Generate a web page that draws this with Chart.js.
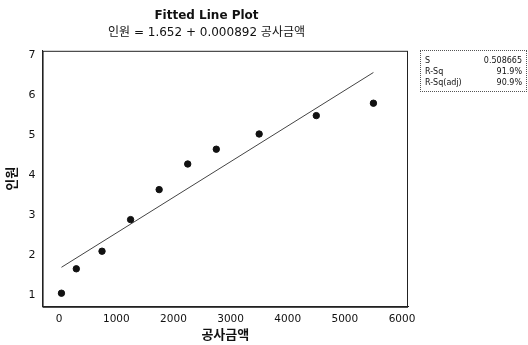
<!DOCTYPE html>
<html>
<head>
<meta charset="utf-8">
<script src="https://cdn.jsdelivr.net/npm/chart.js@4/dist/chart.umd.min.js"></script>
<style>
  body { margin: 0; background: #fff; }
  #wrap { position: relative; width: 528px; height: 345px; }
  #stats {
    position: absolute; left: 420px; top: 50px; width: 107px;
    border: 1px dotted #555; font: 8px 'DejaVu Sans', sans-serif; color: #111;
    padding: 4px 4px 3px 4px; box-sizing: border-box;
  }
  #stats div { display: flex; justify-content: space-between; line-height: 11px; }
</style>
</head>
<body>
<div id="wrap">
  <canvas id="fitChart" width="528" height="345"></canvas>
  <div id="stats">
    <div><span>S</span><span>0.508665</span></div>
    <div><span>R-Sq</span><span>91.9%</span></div>
    <div><span>R-Sq(adj)</span><span>90.9%</span></div>
  </div>
</div>
<script>
// -------------------------
// DATA
// -------------------------
const amount = [40, 300, 750, 1250, 1750, 2250, 2750, 3500, 4500, 5500];   // 공사금액
const staff  = [1.04, 1.65, 2.09, 2.88, 3.63, 4.27, 4.64, 5.02, 5.48, 5.79]; // 인원

const intercept = 1.652;
const slope = 0.000892;

const xTicks = [0, 1000, 2000, 3000, 4000, 5000, 6000];
const yTicks = [1, 2, 3, 4, 5, 6, 7];

const FONT = "'DejaVu Sans', 'Noto Sans CJK KR', sans-serif";

// fitted line endpoints from the equation
const xFirst = Math.min(...amount);
const xLast = Math.max(...amount);
const fitLine = [
    { x: xFirst, y: intercept + slope * xFirst },
    { x: xLast, y: intercept + slope * xLast }
];

// frame around the plot area
const frame = {
    id: "frame",
    afterDraw(chart) {
        const a = chart.chartArea;
        const ctx = chart.ctx;
        ctx.save();
        ctx.strokeStyle = "#222";
        ctx.lineWidth = 1;
        ctx.strokeRect(a.left + 0.5, a.top + 0.5, a.right - a.left - 1, a.bottom - a.top);
        ctx.restore();
    }
};

const ctx = document.getElementById("fitChart").getContext("2d");

new Chart(ctx, {
    type: "scatter",
    data: {
        datasets: [
            {
                data: amount.map((v, i) => ({ x: v, y: staff[i] })),
                backgroundColor: "#111",
                borderColor: "#111",
                pointRadius: 3.2,
                pointHoverRadius: 3.2
            },
            {
                type: "line",
                data: fitLine,
                borderColor: "#444",
                borderWidth: 1,
                pointRadius: 0,
                fill: false
            }
        ]
    },
    options: {
        responsive: false,
        animation: false,
        layout: { padding: { left: 5, right: 120, top: 0, bottom: 2 } },
        plugins: {
            legend: { display: false },
            tooltip: { enabled: false },
            title: {
                display: true,
                text: "Fitted Line Plot",
                color: "#111",
                font: { family: FONT, size: 12, weight: "bold" },
                padding: { top: 9, bottom: 2 }
            },
            subtitle: {
                display: true,
                text: "인원 = 1.652 + 0.000892 공사금액",
                color: "#111",
                font: { family: FONT, size: 12 },
                padding: { top: 0, bottom: 11 }
            }
        },
        scales: {
            x: {
                type: "linear",
                min: -290,
                max: 6105,
                afterBuildTicks: axis => { axis.ticks = xTicks.map(v => ({ value: v })); },
                grid: { display: false, drawTicks: true, tickLength: 4, tickColor: "#222" },
                border: { color: "#222" },
                ticks: {
                    color: "#111", font: { family: FONT, size: 10.5 }, padding: 2, maxRotation: 0,
                    callback: v => String(v)
                },
                title: {
                    display: true, text: "공사금액", color: "#111",
                    font: { family: FONT, size: 13, weight: "bold" }, padding: { top: 0, bottom: 0 }
                }
            },
            y: {
                type: "linear",
                min: 0.7,
                max: 7.1,
                afterBuildTicks: axis => { axis.ticks = yTicks.map(v => ({ value: v })); },
                grid: { display: false, drawTicks: true, tickLength: 4, tickColor: "#222" },
                border: { color: "#222" },
                ticks: { color: "#111", font: { family: FONT, size: 11 }, padding: 3 },
                title: {
                    display: true, text: "인원", color: "#111",
                    font: { family: FONT, size: 13, weight: "bold" }, padding: { top: 0, bottom: 5 }
                }
            }
        }
    },
    plugins: [frame]
});
</script>
</body>
</html>
